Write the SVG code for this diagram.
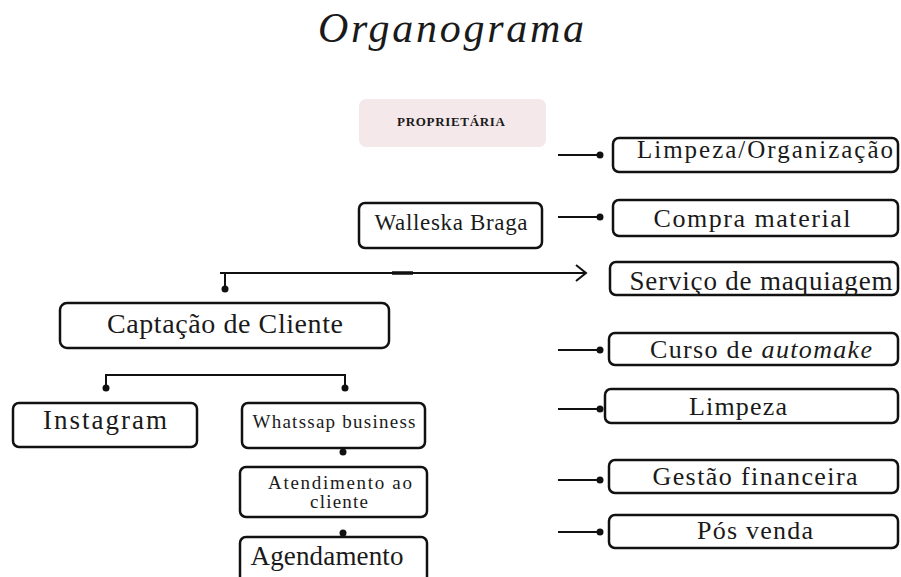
<svg xmlns="http://www.w3.org/2000/svg" width="901" height="577" viewBox="0 0 901 577">
<style>
  .box { fill: #ffffff; stroke: #111; stroke-width: 2.5; }
  .t { font-family: "Liberation Serif", "Times New Roman", serif; fill: #1a1a1a; }
  .ln { stroke: #111; stroke-width: 2; fill: none; }
  .dot { fill: #111; }
</style>
<rect width="901" height="577" fill="#ffffff"/>
<text class="t" x="451" y="42" font-size="42" font-style="italic" text-anchor="middle" textLength="266" lengthAdjust="spacing">Organograma</text>

<g id="proprietaria">
  <rect x="359" y="99" width="187" height="48" rx="7" fill="#f4e8ea"/>
  <text class="t" x="451" y="126" font-size="13" font-weight="bold" text-anchor="middle" textLength="108" lengthAdjust="spacing">PROPRIETÁRIA</text>
</g>
<g id="walleska">
  <rect class="box" x="359" y="203" width="183" height="45" rx="6"/>
  <text class="t" x="451" y="230" font-size="23" text-anchor="middle" textLength="153" lengthAdjust="spacing">Walleska Braga</text>
</g>

<g id="limpeza-org">
  <rect class="box" x="613" y="138" width="285" height="34" rx="6"/>
  <text class="t" x="765" y="158" font-size="25" text-anchor="middle" textLength="256" lengthAdjust="spacing">Limpeza/Organização</text>
</g>
<g id="compra">
  <rect class="box" x="613" y="200" width="285" height="36" rx="6"/>
  <text class="t" x="752" y="227" font-size="26" text-anchor="middle" textLength="197" lengthAdjust="spacing">Compra material</text>
</g>
<g id="servico">
  <rect class="box" x="610" y="262" width="288" height="33" rx="6"/>
  <text class="t" x="761" y="290" font-size="27" text-anchor="middle" textLength="263" lengthAdjust="spacing">Serviço de maquiagem</text>
</g>
<g id="curso">
  <rect class="box" x="609" y="333" width="289" height="32" rx="6"/>
  <text class="t" x="761" y="358" font-size="26" text-anchor="middle" textLength="222" lengthAdjust="spacing">Curso de <tspan font-style="italic">automake</tspan></text>
</g>
<g id="limpeza">
  <rect class="box" x="605" y="389" width="293" height="34" rx="6"/>
  <text class="t" x="738" y="415" font-size="26" text-anchor="middle" textLength="98" lengthAdjust="spacing">Limpeza</text>
</g>
<g id="gestao">
  <rect class="box" x="609" y="460" width="289" height="33" rx="6"/>
  <text class="t" x="755" y="485" font-size="26" text-anchor="middle" textLength="205" lengthAdjust="spacing">Gestão financeira</text>
</g>
<g id="posvenda">
  <rect class="box" x="609" y="515" width="289" height="33" rx="6"/>
  <text class="t" x="755" y="539" font-size="26" text-anchor="middle" textLength="116" lengthAdjust="spacing">Pós venda</text>
</g>

<g id="captacao">
  <rect class="box" x="60" y="303" width="329" height="45" rx="7"/>
  <text class="t" x="225" y="333" font-size="28" text-anchor="middle" textLength="236" lengthAdjust="spacing">Captação de Cliente</text>
</g>
<g id="instagram">
  <rect class="box" x="13" y="403" width="184" height="44" rx="6"/>
  <text class="t" x="105" y="429" font-size="27" text-anchor="middle" textLength="124" lengthAdjust="spacing">Instagram</text>
</g>
<g id="whatsapp">
  <rect class="box" x="242" y="403" width="183" height="45" rx="6"/>
  <text class="t" x="334" y="428" font-size="19" text-anchor="middle" textLength="163" lengthAdjust="spacing">Whatssap business</text>
</g>
<g id="atendimento">
  <rect class="box" x="240" y="467" width="187" height="50" rx="6"/>
  <text class="t" x="340" y="489" font-size="19" text-anchor="middle" textLength="144" lengthAdjust="spacing">Atendimento ao</text>
  <text class="t" x="339" y="508" font-size="19" text-anchor="middle" textLength="58" lengthAdjust="spacing">cliente</text>
</g>
<g id="agendamento">
  <rect class="box" x="240" y="537" width="187" height="50" rx="6"/>
  <text class="t" x="327" y="565" font-size="27" text-anchor="middle" textLength="153" lengthAdjust="spacing">Agendamento</text>
</g>

<g id="connectors">
  <line class="ln" x1="558" y1="155" x2="600" y2="155"/><circle class="dot" cx="600" cy="155" r="3.5"/>
  <line class="ln" x1="558" y1="217" x2="600" y2="217"/><circle class="dot" cx="600" cy="217" r="3.5"/>
  <line class="ln" x1="558" y1="350" x2="600" y2="350"/><circle class="dot" cx="600" cy="350" r="3.5"/>
  <line class="ln" x1="558" y1="409" x2="600" y2="409"/><circle class="dot" cx="600" cy="409" r="3.5"/>
  <line class="ln" x1="558" y1="480" x2="600" y2="480"/><circle class="dot" cx="600" cy="480" r="3.5"/>
  <line class="ln" x1="558" y1="532" x2="600" y2="532"/><circle class="dot" cx="600" cy="532" r="3.5"/>

  <line class="ln" x1="220" y1="273" x2="586" y2="273" stroke-width="2.5"/>
  <line x1="392" y1="273" x2="413" y2="273" stroke="#111" stroke-width="3.5"/>
  <polyline class="ln" points="576,265 586,273 576,281" stroke-width="2.5"/>
  <line class="ln" x1="225" y1="273" x2="225" y2="289"/><circle class="dot" cx="225" cy="289" r="3.5"/>

  <polyline class="ln" points="106,388 106,375 345,375 345,388"/>
  <circle class="dot" cx="106" cy="388" r="3.5"/>
  <circle class="dot" cx="345" cy="388" r="3.5"/>

  <circle class="dot" cx="343" cy="452" r="3.5"/>
  <circle class="dot" cx="343" cy="533" r="3.5"/>
</g>
</svg>
